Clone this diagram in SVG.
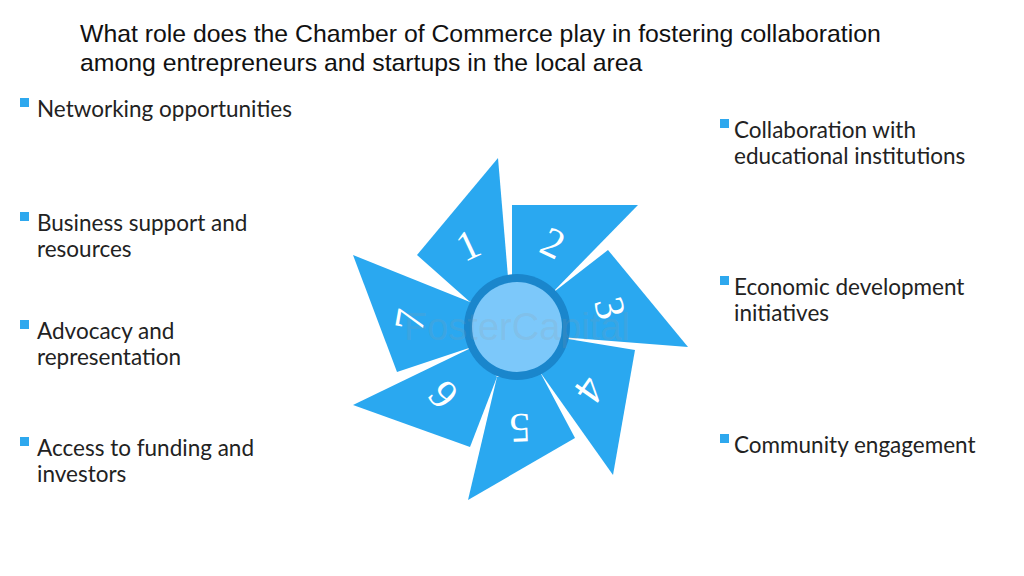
<svg xmlns="http://www.w3.org/2000/svg" width="1024" height="576" viewBox="0 0 1024 576">
<style>
.t{font-family:"Liberation Sans",Arial,sans-serif;font-size:24.8px;fill:#111}
.b{font-family:Lato,"Open Sans",sans-serif;font-size:22.5px;fill:#222}
.sq{fill:#2ea8ee}
.bl{fill:#2aa8f0}
.n{font-family:"Liberation Serif",serif;font-size:42px;fill:#fff;text-anchor:middle;dominant-baseline:central}
</style>
<rect width="1024" height="576" fill="#fff"/>
<g id="title"><text class="t" x="80" y="42">What role does the Chamber of Commerce play in fostering collaboration</text><text class="t" x="80" y="71">among entrepreneurs and startups in the local area</text></g>
<g id="left">
<rect class="sq" x="20" y="98" width="9" height="9"/><text class="b" x="37" y="117">Networking opportunities</text>
<rect class="sq" x="20" y="212" width="9" height="9"/><text class="b" x="37" y="231">Business support and</text><text class="b" x="37" y="257">resources</text>
<rect class="sq" x="20" y="320" width="9" height="9"/><text class="b" x="37" y="339">Advocacy and</text><text class="b" x="37" y="365">representation</text>
<rect class="sq" x="20" y="437" width="9" height="9"/><text class="b" x="37" y="456">Access to funding and</text><text class="b" x="37" y="482">investors</text>
</g>
<g id="right">
<rect class="sq" x="720" y="119" width="9" height="9"/><text class="b" x="734" y="138">Collaboration with</text><text class="b" x="734" y="164">educational institutions</text>
<rect class="sq" x="720" y="276" width="9" height="9"/><text class="b" x="734" y="295">Economic development</text><text class="b" x="734" y="321">initiatives</text>
<rect class="sq" x="720" y="434" width="9" height="9"/><text class="b" x="734" y="453">Community engagement</text>
</g>
<g id="pinwheel">
<polygon class="bl" points="498,158 417,255 470,302 508,277"/>
<polygon class="bl" points="512,205 638,205 550,295 512,277"/>
<polygon class="bl" points="608,250 688,347 560,337 550,295"/>
<polygon class="bl" points="635,350 613,475 540,372 562,338"/>
<polygon class="bl" points="575,438 468,500 497,377 540,372"/>
<polygon class="bl" points="470,447 353,405 473,347 497,377"/>
<polygon class="bl" points="353,255 397,372 472,347 470,302"/>
<circle cx="517" cy="327" r="53" fill="#1a86cc"/>
<circle cx="517" cy="327" r="45" fill="#7cc8fa"/>
<text x="517" y="340" font-family="Liberation Sans,sans-serif" font-size="38" fill="#999" fill-opacity="0.18" text-anchor="middle">FosterCapital</text>
<text class="n" transform="translate(468,245) rotate(-25)">1</text>
<text class="n" transform="translate(553,243) rotate(25)">2</text>
<text class="n" transform="translate(610,308) rotate(75)">3</text>
<text class="n" transform="translate(590,390) rotate(125)">4</text>
<text class="n" transform="translate(520,428) rotate(178)">5</text>
<text class="n" transform="translate(443,395) rotate(230)">6</text>
<text class="n" transform="translate(410,320) rotate(280)">7</text>
</g>
</svg>
